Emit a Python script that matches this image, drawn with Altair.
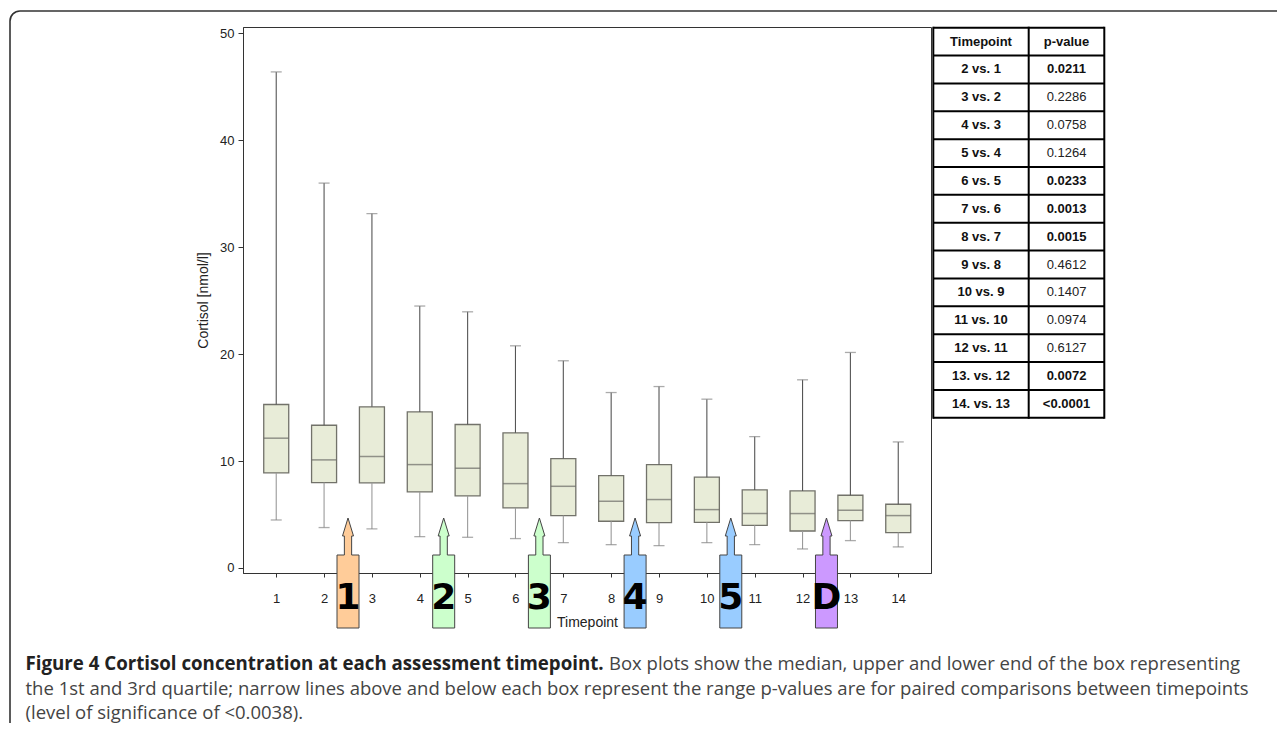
import altair as alt
import pandas as pd

# ---------------- data ----------------
timepoints = list(range(1, 15))
whisker_low = [4.49, 3.78, 3.65, 2.93, 2.87, 2.75, 2.37, 2.18, 2.09, 2.37, 2.18, 1.78, 2.56, 1.97]
q1 = [8.89, 7.99, 7.96, 7.11, 6.74, 5.62, 4.90, 4.37, 4.24, 4.27, 3.99, 3.46, 4.43, 3.31]
median = [12.14, 10.11, 10.42, 9.67, 9.33, 7.89, 7.64, 6.24, 6.40, 5.46, 5.09, 5.09, 5.40, 4.90]
q3 = [15.29, 13.35, 15.07, 14.60, 13.42, 12.64, 10.23, 8.64, 9.67, 8.49, 7.30, 7.21, 6.80, 5.96]
whisker_high = [46.4, 36.0, 33.15, 24.5, 23.96, 20.78, 19.38, 16.41, 16.97, 15.79, 12.29, 17.60, 20.16, 11.79]

y_ticks = [0, 10, 20, 30, 40, 50]

arrow_pos = [2.5, 4.5, 6.5, 8.5, 10.5, 12.5]
arrow_labels = ["1", "2", "3", "4", "5", "D"]
arrow_colors = ["#FFCC99", "#CCFFCC", "#CCFFCC", "#99CCFF", "#99CCFF", "#CC99FF"]

table_header = ["Timepoint", "p-value"]
comparisons = ["2 vs. 1", "3 vs. 2", "4 vs. 3", "5 vs. 4", "6 vs. 5", "7 vs. 6", "8 vs. 7",
               "9 vs. 8", "10 vs. 9", "11 vs. 10", "12 vs. 11", "13. vs. 12", "14. vs. 13"]
p_values = ["0.0211", "0.2286", "0.0758", "0.1264", "0.0233", "0.0013", "0.0015",
            "0.4612", "0.1407", "0.0974", "0.6127", "0.0072", "<0.0001"]
p_bold = [True, False, False, False, True, True, True, False, False, False, False, True, True]

caption_bold = "Figure 4 Cortisol concentration at each assessment timepoint."
caption_lines = [
    "Box plots show the median, upper and lower end of the box representing",
    "the 1st and 3rd quartile; narrow lines above and below each box represent the range p-values are for paired comparisons between timepoints",
    "(level of significance of <0.0038).",
]

# ---------------- tables ----------------
boxes = pd.DataFrame({"timepoint": timepoints, "low": whisker_low, "q1": q1,
                      "median": median, "q3": q3, "high": whisker_high})
arrows = pd.DataFrame({"pos": arrow_pos, "label": arrow_labels, "color": arrow_colors})
table = pd.DataFrame({
    "row": list(range(len(comparisons) + 1)),
    "left": [table_header[0]] + comparisons,
    "right": [table_header[1]] + p_values,
    "bold": [True] + p_bold,
})

FONT = "Liberation Sans"
xscale = alt.Scale(domain=[0.41, 14.58], nice=False, zero=False)
yscale = alt.Scale(domain=[-0.47, 50.6], nice=False, zero=False)

X = alt.X("timepoint:Q", scale=xscale,
          axis=alt.Axis(values=timepoints, title="Timepoint", format="d", grid=False,
                        tickSize=4, labelPadding=15, titlePadding=10))
Xn = alt.X("timepoint:Q", scale=xscale)

base = alt.Chart(boxes)

boxes_layer = base.mark_bar(size=25, fill="#E8ECD8", stroke="#72726a", strokeWidth=1.3).encode(
    x=X,
    y=alt.Y("q1:Q", scale=yscale,
            axis=alt.Axis(values=y_ticks, title="Cortisol [nmol/l]", grid=False,
                          tickSize=5, labelPadding=4, titlePadding=9)),
    y2="q3:Q",
)
upper_whisker = base.mark_rule(color="#555555", strokeWidth=1.1).encode(
    x=Xn, y=alt.Y("q3:Q", scale=yscale), y2="high:Q")
lower_whisker = base.mark_rule(color="#9a9a9a", strokeWidth=1.1).encode(
    x=Xn, y=alt.Y("low:Q", scale=yscale), y2="q1:Q")
median_layer = base.mark_tick(orient="horizontal", size=25, thickness=1.5, color="#6b6b66").encode(
    x=Xn, y=alt.Y("median:Q", scale=yscale))
cap_high = base.mark_tick(orient="horizontal", size=11, thickness=1.3, color="#888888").encode(
    x=Xn, y=alt.Y("high:Q", scale=yscale))
cap_low = base.mark_tick(orient="horizontal", size=11, thickness=1.3, color="#888888").encode(
    x=Xn, y=alt.Y("low:Q", scale=yscale))

arrow_path = ("M-0.2,1 L0.2,1 L0.2,-0.327 L0.066,-0.327 L0.066,-0.673 L0.1,-0.673 L0,-1 "
              "L-0.1,-0.673 L-0.066,-0.673 L-0.066,-0.327 L-0.2,-0.327 Z")
arrow_layer = alt.Chart(arrows).mark_point(
    shape=arrow_path, size=12100, filled=True, stroke="#444444", strokeWidth=1, opacity=1
).encode(
    x=alt.X("pos:Q", scale=xscale),
    y=alt.value(546),
    fill=alt.Fill("color:N", scale=None),
)
arrow_text = alt.Chart(arrows).mark_text(
    font="DejaVu Sans", fontSize=36, fontWeight="bold", color="#000000", baseline="alphabetic"
).encode(
    x=alt.X("pos:Q", scale=xscale),
    y=alt.value(582),
    text="label:N",
)

# ---------------- p-value table ----------------
ROW_TOP, ROW_H = 0.7, 27.86
tbase = alt.Chart(table).transform_calculate(ty=f"{ROW_TOP} + {ROW_H} * (datum.row + 0.5)")
t_left = tbase.mark_text(font=FONT, fontSize=13, fontWeight="bold", color="#111111", baseline="middle").encode(
    x=alt.value(738), y=alt.Y("ty:Q", scale=None), text="left:N")
t_right_b = tbase.transform_filter("datum.bold").mark_text(
    font=FONT, fontSize=13, fontWeight="bold", color="#111111", baseline="middle").encode(
    x=alt.value(823.5), y=alt.Y("ty:Q", scale=None), text="right:N")
t_right_n = tbase.transform_filter("!datum.bold").mark_text(
    font=FONT, fontSize=13, fontWeight="normal", color="#222222", baseline="middle").encode(
    x=alt.value(823.5), y=alt.Y("ty:Q", scale=None), text="right:N")

h_lines = alt.Chart(alt.sequence(0, len(comparisons) + 2, as_="k")).transform_calculate(
    ly=f"{ROW_TOP} + {ROW_H} * datum.k").mark_rule(color="#000000", strokeWidth=2).encode(
    x=alt.value(690.3), x2=alt.value(861.3), y=alt.Y("ly:Q", scale=None))
one = alt.Data(values=[{"z": 0}])
v_lines = [
    alt.Chart(one).mark_rule(color="#000000", strokeWidth=2).encode(
        x=alt.value(xv), y=alt.value(ROW_TOP - 1), y2=alt.value(ROW_TOP + ROW_H * 14 + 1))
    for xv in (690.3, 785.7, 861.3)
]

# ---------------- caption and outer frame ----------------
frame = alt.Chart(one).mark_rect(
    filled=False, stroke="#333333", strokeWidth=1.6, cornerRadius=10
).encode(x=alt.value(-233), x2=alt.value(1120), y=alt.value(-16), y2=alt.value(760))

cap_b = alt.Chart(one).mark_text(
    font="Open Sans", fontSize=18.7, fontWeight="bold", color="#222222", align="left", baseline="alphabetic"
).encode(x=alt.value(-217.5), y=alt.value(643), text=alt.value(caption_bold))
cap_lines = [
    alt.Chart(one).mark_text(
        font="Open Sans", fontSize=18.5, color="#444444", align="left", baseline="alphabetic"
    ).encode(x=alt.value(xv), y=alt.value(yv), text=alt.value(t))
    for t, xv, yv in zip(caption_lines, (366, -217.5, -217.5), (643, 667.5, 692))
]

chart = alt.layer(
    frame, boxes_layer, upper_whisker, lower_whisker, median_layer, cap_high, cap_low,
    arrow_layer, arrow_text, h_lines, *v_lines, t_left, t_right_b, t_right_n, cap_b, *cap_lines
).properties(
    width=688, height=546,
    autosize=alt.AutoSizeParams(type="none"),
    padding={"left": 235, "top": 19, "right": 346, "bottom": 150},
).configure_axis(
    domainColor="#333333", tickColor="#333333", labelFont=FONT, labelFontSize=13,
    labelColor="#222222", titleFont=FONT, titleFontSize=14, titleFontWeight="normal",
    titleColor="#222222", grid=False,
).configure_view(stroke="#333333", strokeWidth=1)

chart.save("out.html", embed_options={"renderer": "svg", "actions": False})
